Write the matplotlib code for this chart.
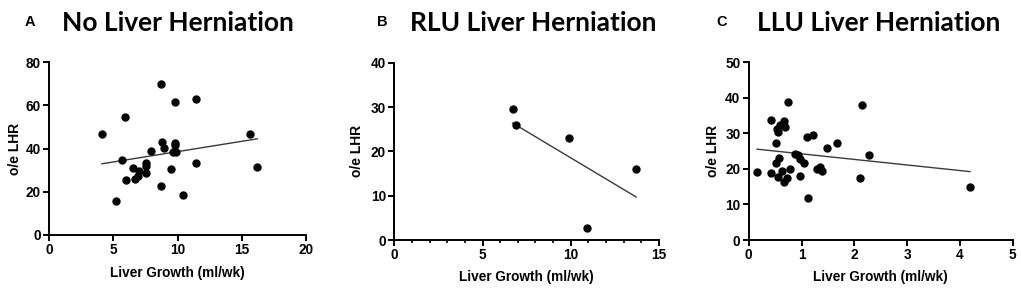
"""Liver growth vs o/e LHR, three herniation groups."""

import matplotlib
matplotlib.use("Agg")
import matplotlib.pyplot as plt
import numpy as np
from matplotlib.ticker import MultipleLocator

# --- data ---
a_growth = [4.1, 5.9, 5.7, 6.0, 5.2, 8.7, 9.8, 11.4, 15.6, 16.2, 11.4, 10.4, 8.7, 9.5,
            8.8, 8.9, 9.8, 9.8, 9.6, 9.9, 7.9, 7.5, 7.5, 7.5, 6.5, 7.0, 6.9, 6.7]
a_lhr = [46.6, 54.6, 34.8, 25.3, 15.8, 69.8, 61.8, 62.8, 46.8, 31.6, 33.3, 18.5, 22.5, 30.6,
         43.1, 40.3, 42.8, 41.5, 38.4, 38.3, 39.0, 33.3, 32.1, 28.9, 31.0, 29.5, 27.2, 26.0]

b_growth = [6.7, 6.9, 9.9, 13.7, 10.9]
b_lhr = [29.6, 25.9, 23.0, 16.0, 2.7]

c_growth = [0.16, 0.42, 0.42, 0.75, 2.15, 0.52, 0.53, 0.55, 0.59, 0.67, 0.69, 1.10, 1.22,
            1.48, 1.68, 2.27, 2.10, 4.19, 1.12, 0.52, 0.58, 0.55, 0.64, 0.66, 0.72, 0.79,
            0.97, 0.87, 0.93, 0.98, 1.05, 1.30, 1.35, 1.39]
c_lhr = [19.1, 18.9, 33.7, 38.9, 38.1, 27.4, 31.1, 30.4, 32.4, 33.4, 31.7, 29.1, 29.5,
         25.9, 27.3, 23.8, 17.4, 14.8, 11.9, 21.6, 23.0, 17.7, 19.5, 16.4, 17.5, 20.1,
         17.9, 24.3, 23.9, 22.9, 21.6, 20.1, 20.4, 19.5]

panel_letters = ["A", "B", "C"]
panel_titles = ["No Liver Herniation", "RLU Liver Herniation", "LLU Liver Herniation"]
x_maxes = [20, 15, 5]
y_maxes = [80, 40, 50]
x_steps = [5, 5, 1]
y_steps = [20, 10, 10]

W, H = 1021, 292
# axes boxes in pixels: left, right, top, bottom
boxes = [(49.3, 306.0, 62.3, 235.0),
         (394.3, 659.0, 62.7, 240.0),
         (748.7, 1012.7, 62.3, 240.0)]
title_x = [178, 533, 879]
letter_x = [30, 382, 722]
ylabel_x = [15, 357, 713]
xlabel_y = [273, 277, 277]

TICK_FONT = "Liberation Sans"
TITLE_FONT = "Lato"

fig = plt.figure(figsize=(W / 100, H / 100), dpi=100)

series = [(a_growth, a_lhr), (b_growth, b_lhr), (c_growth, c_lhr)]

for i, (xs, ys) in enumerate(series):
    left, right, top, bottom = boxes[i]
    ax = fig.add_axes([left / W, 1 - bottom / H, (right - left) / W, (bottom - top) / H])
    ax.plot(xs, ys, "o", color="black", markersize=5, clip_on=False, zorder=3)

    # least-squares line, drawn across the range of the data
    slope, intercept = np.polyfit(xs, ys, 1)
    fx = np.array([min(xs), max(xs)])
    ax.plot(fx, slope * fx + intercept, color="#3a3a3a", lw=1.0, zorder=2)

    ax.set_xlim(0, x_maxes[i])
    ax.set_ylim(0, y_maxes[i])
    ax.xaxis.set_major_locator(MultipleLocator(x_steps[i]))
    ax.yaxis.set_major_locator(MultipleLocator(y_steps[i]))
    if i == 1:
        ax.xaxis.set_minor_locator(MultipleLocator(1))
        ax.tick_params(axis="x", which="minor", length=2.5, width=1.2)

    for s in ("top", "right"):
        ax.spines[s].set_visible(False)
    for s in ("left", "bottom"):
        ax.spines[s].set_linewidth(1.4)
    ax.tick_params(which="major", length=4, width=1.4, pad=2, labelsize=9.8)
    for lab in ax.get_xticklabels() + ax.get_yticklabels():
        lab.set_fontfamily(TICK_FONT)
        lab.set_fontweight("bold")

    fig.text(ylabel_x[i] / W, 1 - ((top + bottom) / 2) / H, "o/e LHR", rotation=90,
             ha="center", va="center", fontsize=10, fontweight="bold", family=TICK_FONT)
    fig.text(((left + right) / 2) / W, 1 - xlabel_y[i] / H, "Liver Growth (ml/wk)",
             ha="center", va="center", fontsize=9.8, fontweight="bold", family=TICK_FONT)
    fig.text(title_x[i] / W, 1 - 23 / H, panel_titles[i], ha="center", va="center",
             fontsize=19, fontweight="bold", family=TITLE_FONT)
    fig.text(letter_x[i] / W, 1 - 22 / H, panel_letters[i], ha="center", va="center",
             fontsize=10.5, fontweight="bold", family=TICK_FONT)

fig.savefig("out.png", dpi=100)
